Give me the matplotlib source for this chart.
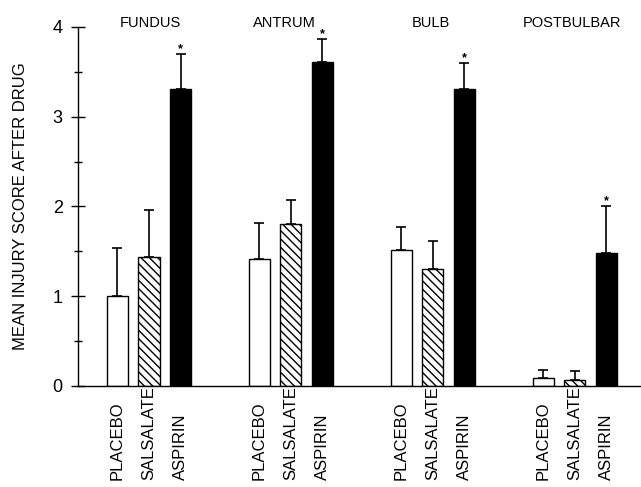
import matplotlib
matplotlib.use('Agg')
import matplotlib.pyplot as plt
import numpy as np

plt.rcParams['font.family'] = ['Liberation Sans', 'DejaVu Sans']
plt.rcParams['hatch.linewidth'] = 1.0

# data
regions = ["FUNDUS", "ANTRUM", "BULB", "POSTBULBAR"]
drugs = ["PLACEBO", "SALSALATE", "ASPIRIN"]
placebo = [1.00, 1.42, 1.52, 0.09]
placebo_err = [0.54, 0.40, 0.25, 0.09]
salsalate = [1.44, 1.80, 1.30, 0.07]
salsalate_err = [0.52, 0.27, 0.32, 0.10]
aspirin = [3.31, 3.61, 3.31, 1.48]
aspirin_err = [0.39, 0.26, 0.29, 0.53]

fig = plt.figure(figsize=(6.41, 4.87), dpi=100)
ax = fig.add_axes([0.1217, 0.2074, 0.8783, 0.7372])

group_step = 4.5
width = 0.67
fills = [("white", ""), ("white", "\\\\\\\\"), ("black", "")]
series = [(placebo, placebo_err), (salsalate, salsalate_err), (aspirin, aspirin_err)]

xpos_all = []
for j, ((vals, errs), (fc, hatch)) in enumerate(zip(series, fills)):
    x = np.arange(len(regions)) * group_step + j
    ax.bar(x, vals, width=width, color=fc, edgecolor="black", hatch=hatch,
           linewidth=1.0, zorder=2)
    ax.errorbar(x, vals, yerr=[np.zeros(len(vals)), errs], fmt="none",
                ecolor="black", elinewidth=1.2, capsize=3.5, capthick=1.2, zorder=3)
    xpos_all.extend(x)
    # drug names under bars, rotated and aligned at their start
    for xi in x:
        ax.text(xi, -0.262, drugs[j], transform=ax.get_xaxis_transform(),
                rotation=90, ha="center", va="bottom", fontsize=12)
    if j == 2:
        for xi, v, e in zip(x, vals, errs):
            ax.annotate("*", (xi, v + e), xytext=(0, -1), textcoords="offset points",
                        ha="center", va="bottom", fontsize=9, fontweight="bold")

# region names along the top, nudged like the original lettering
label_shift = [0.05, -0.2, -0.05, -0.1]
for i, name in enumerate(regions):
    ax.text(i * group_step + 1 + label_shift[i], 1.0, name,
            transform=ax.get_xaxis_transform(),
            ha="center", va="baseline", fontsize=10.5)

ax.set_xlim(-1.25, 16.6)
ax.set_ylim(0, 4)
ax.set_xticks(xpos_all)
ax.set_xticklabels([])
ax.tick_params(axis="x", length=0)

ax.set_yticks([0, 1, 2, 3, 4])
ax.set_yticks([0.5, 1.5, 2.5, 3.5], minor=True)
ax.tick_params(axis="y", which="major", direction="inout", length=10, width=1, labelsize=13, pad=6)
ax.tick_params(axis="y", which="minor", direction="inout", length=6, width=1)

ax.spines["top"].set_visible(False)
ax.spines["right"].set_visible(False)
ax.spines["left"].set_linewidth(1)
ax.spines["bottom"].set_linewidth(1)

ax.set_ylabel("MEAN INJURY SCORE AFTER DRUG", fontsize=12, labelpad=18)

fig.savefig("out.png", dpi=100)
